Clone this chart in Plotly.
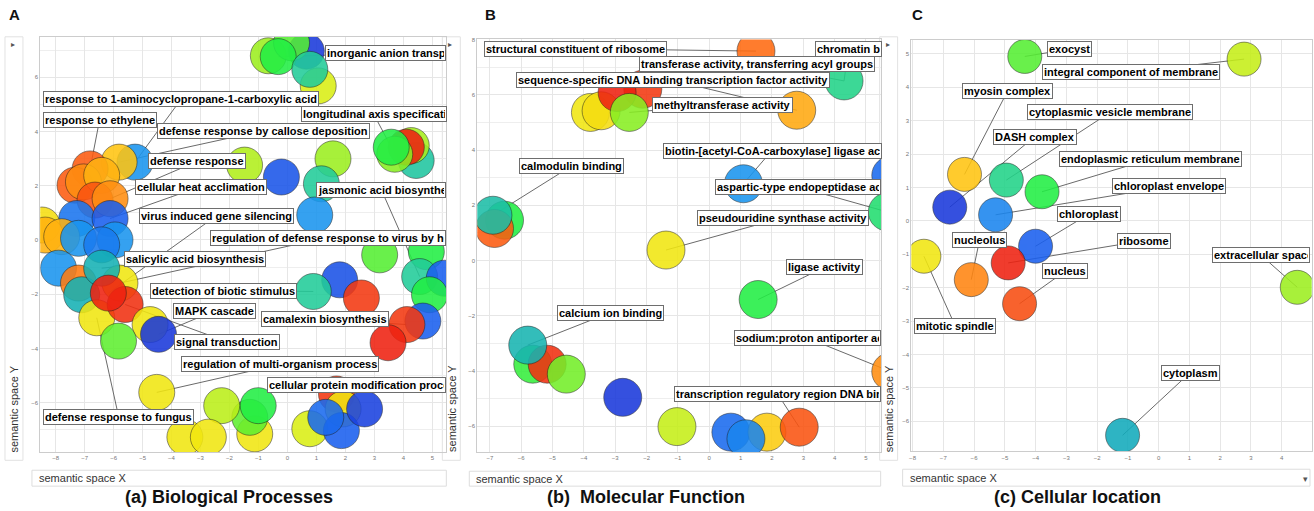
import plotly.graph_objects as go

W, H = 1314, 511

# ================= DATA =================
# (a) Biological Processes -- semantic space coordinates, colour value (0 = blue ... 1 = red)
bp_x = [1.06, 0.65, -0.66, 0.14, -0.32, 0.77,
        4.44, 4.27, 4.10, 3.70, 3.58,
        -1.48, -0.21, 1.57, 1.17, 0.94,
        3.18, 4.79, 4.56, 5.41, 4.90, 1.80, 0.89, 2.55, 4.67, 4.12, 3.47,
        1.69, 1.92, 0.77, 1.86, 2.66, 1.32,
        -1.13, -1.30, -1.01, -2.27, -3.54, -2.73, -4.51,
        -5.26, -5.81, -6.81, -7.33, -7.04, -6.41, -6.64, -6.12, -7.27, -6.12,
        -8.47, -8.36, -7.79, -7.21, -5.95, -6.41,
        -7.90, -7.21, -7.10, -5.78, -6.58, -5.60, -6.41, -6.18, -4.74, -5.83, -4.45]
bp_y = [5.68, 6.96, 6.79, 7.27, 6.76, 6.29,
        2.93, 3.48, 3.42, 3.16, 3.42,
        2.76, 2.32, 2.99, 2.07, 0.92,
        -0.55, -0.43, -1.35, -1.41, -2.02, -1.47, -1.90, -2.14, -2.99, -3.12, -3.79,
        -5.68, -6.23, -6.96, -7.03, -6.23, -6.54,
        -7.15, -6.54, -6.11, -6.11, -7.27, -7.27, -5.62,
        2.87, 2.87, 2.62, 2.02, 2.14, 2.38, 1.47, 1.52, 0.79, 0.79,
        0.55, 0.18, 0.12, 0.06, 0.00, -0.18,
        -1.04, -1.59, -2.02, -1.59, -2.87, -2.38, -1.04, -1.96, -3.12, -3.73, -3.48]
bp_val = [0.68, 0.02, 0.62, 0.55, 0.50, 0.40,
          0.38, 0.63, 1.00, 0.60, 0.50,
          0.64, 0.08, 0.62, 0.40, 0.20,
          0.55, 0.50, 0.40, 0.10, 0.50, 0.07, 0.40, 0.97, 0.10, 0.97, 1.00,
          0.97, 0.72, 0.68, 0.10, 0.04, 0.12,
          0.72, 0.56, 0.50, 0.65, 0.72, 0.72, 0.72,
          0.20, 0.80, 0.92, 0.92, 0.86, 0.82, 0.93, 0.86, 0.14, 0.10,
          0.74, 0.82, 0.82, 0.20, 0.20, 0.15,
          0.20, 0.88, 0.32, 0.72, 0.72, 0.98, 0.32, 1.00, 0.72, 0.56, 0.02]
bp_terms = ["response to 1-aminocyclopropane-1-carboxylic acid", "response to ethylene",
            "defense response by callose deposition", "defense response",
            "cellular heat acclimation", "virus induced gene silencing",
            "regulation of defense response to virus by host", "salicylic acid biosynthesis",
            "detection of biotic stimulus", "MAPK cascade", "camalexin biosynthesis",
            "signal transduction", "regulation of multi-organism process",
            "cellular protein modification process", "defense response to fungus",
            "inorganic anion transport", "longitudinal axis specification",
            "jasmonic acid biosynthesis"]
bp_term_idx = [40, 42, 41, 47, 49, 63, 59, 62, 22, 66, 25, 61, 39, 28, 60, 4, 10, 18]

# (b) Molecular Function
mf_x = [1.49, 4.30, 2.79, -2.12, -3.79, -3.45, -2.94, -2.55,
        1.09, 5.79, 5.68, -6.53, -6.85, -6.90, -1.38, 1.56,
        -5.63, -5.17, -4.56, -5.79, -2.76, -1.03, 0.69, 1.84, 1.17, 2.87, 5.79]
mf_y = [7.58, 6.50, 5.44, 6.20, 5.36, 5.42, 6.08, 5.36,
        2.78, 3.08, 1.76, 1.46, 1.16, 1.64, 0.38, -1.41,
        -3.75, -3.75, -4.11, -3.06, -4.95, -6.01, -6.21, -6.21, -6.45, -6.03, -4.02]
mf_val = [0.90, 0.42, 0.83, 0.97, 0.72, 0.74, 1.00, 0.60,
          0.20, 0.12, 0.45, 0.50, 0.92, 0.36, 0.72, 0.50,
          0.52, 0.98, 0.58, 0.33, 0.02, 0.66, 0.12, 0.78, 0.17, 0.93, 0.86]
mf_terms = ["structural constituent of ribosome", "chromatin binding",
            "transferase activity, transferring acyl groups",
            "sequence-specific DNA binding transcription factor activity",
            "methyltransferase activity", "biotin-[acetyl-CoA-carboxylase] ligase activity",
            "calmodulin binding", "aspartic-type endopeptidase activity",
            "pseudouridine synthase activity", "ligase activity", "calcium ion binding",
            "sodium:proton antiporter activity", "transcription regulatory region DNA binding"]
mf_term_idx = [0, 1, 1, 2, 7, 8, 13, 10, 14, 15, 19, 26, 25]

# (c) Cellular location
cc_x = [-4.35, 2.78, -6.31, -4.95, -3.79, -6.79, -5.30, -4.00, -7.63, -4.89, -6.09, -4.52, 4.51, -1.17]
cc_y = [4.92, 4.84, 1.39, 1.22, 0.87, 0.41, 0.18, -0.76, -1.06, -1.26, -1.76, -2.48, -1.99, -6.42]
cc_val = [0.55, 0.66, 0.80, 0.42, 0.50, 0.02, 0.17, 0.10, 0.72, 1.00, 0.87, 0.94, 0.62, 0.30]
cc_terms = ["exocyst", "integral component of membrane", "myosin complex",
            "cytoplasmic vesicle membrane", "DASH complex", "endoplasmic reticulum membrane",
            "chloroplast envelope", "chloroplast", "nucleolus", "ribosome", "nucleus",
            "extracellular space", "mitotic spindle", "cytoplasm"]
cc_term_idx = [0, 1, 2, 3, 5, 4, 6, 7, 10, 9, 11, 12, 8, 13]

# ================= LAYOUT (label placement) =================
# label box position (centre, or left edge when a clip width in px is given)
bp_lab_x = [-3.67, -6.48, -0.84, -3.11, -3.00, -2.44, -2.68, -3.19, -2.20, -2.51, 1.28, -2.07, -0.26, -0.69, -5.82, 1.31, 0.46, 1.00]
bp_lab_y = [5.19, 4.44, 4.03, 2.90, 1.97, 0.90, 0.09, -0.69, -1.87, -2.61, -2.93, -3.76, -4.59, -5.35, -6.54, 6.88, 4.64, 1.85]
bp_lab_w = [None, None, None, None, None, None, 236, None, None, None, None, None, None, 179, None, 121, 146, 130]

mf_lab_x = [-4.28, 3.37, 1.53, -1.16, 0.42, -1.49, -4.38, 0.19, 2.34, 3.68, -3.15, 0.80, -1.11]
mf_lab_y = [7.67, 7.64, 7.11, 6.52, 5.64, 3.98, 3.43, 2.67, 1.55, -0.24, -1.88, -2.81, -4.84]
mf_lab_w = [None, 67, None, None, None, 219, None, 166, None, None, None, 147, 207]

cc_lab_x = [-2.90, -0.88, -4.90, -1.57, -4.03, -0.26, 0.34, -2.27, -5.82, -0.46, -3.04, 1.73, -6.61, 1.03]
cc_lab_y = [5.14, 4.45, 3.90, 3.25, 2.52, 1.85, 1.03, 0.20, -0.57, -0.59, -1.51, -1.02, -3.15, -4.54]
cc_lab_w = [None] * 11 + [98, None, None]

COLORSCALE = [
    [0.0, '#1a2fd6'], [0.1, '#1a5fee'], [0.2, '#1a95ee'], [0.3, '#12aabb'],
    [0.4, '#22cc99'], [0.5, '#22ee44'], [0.6, '#88ee22'], [0.7, '#eeee11'],
    [0.8, '#ffc411'], [0.9, '#ff6a11'], [1.0, '#ee2211'],
]

panels = [
    dict(ax='', dom_x=(38.3, 445), dom_y=(34, 451.7), xr=[-8.53, 5.48], yr=[-7.82, 7.49],
         ydt=2, size=36, xs=bp_x, ys=bp_y, vals=bp_val, terms=bp_terms, tidx=bp_term_idx,
         lx=bp_lab_x, ly=bp_lab_y, lw=bp_lab_w),
    dict(ax='2', dom_x=(476, 880.7), dom_y=(36.7, 451.7), xr=[-7.40, 5.49], yr=[-6.93, 8.0],
         ydt=2, size=38, xs=mf_x, ys=mf_y, vals=mf_val, terms=mf_terms, tidx=mf_term_idx,
         lx=mf_lab_x, ly=mf_lab_y, lw=mf_lab_w),
    dict(ax='3', dom_x=(910.7, 1311.7), dom_y=(37.3, 451), xr=[-8.04, 4.98], yr=[-6.90, 5.41],
         ydt=1, size=34, xs=cc_x, ys=cc_y, vals=cc_val, terms=cc_terms, tidx=cc_term_idx,
         lx=cc_lab_x, ly=cc_lab_y, lw=cc_lab_w),
]

fig = go.Figure()
annotations = []
shapes = []
LABEL_FONT = dict(family='Arial, Liberation Sans, sans-serif', size=11, color='#000000')

for p in panels:
    xref, yref = 'x' + p['ax'], 'y' + p['ax']
    ppu = (p['dom_x'][1] - p['dom_x'][0]) / (p['xr'][1] - p['xr'][0])
    # leader lines (under the bubbles)
    lxs, lys = [], []
    for t, i, x, y, w in zip(p['terms'], p['tidx'], p['lx'], p['ly'], p['lw']):
        sx = x + (w / 2) / ppu if w else x
        lxs += [sx, p['xs'][i], None]
        lys += [y, p['ys'][i], None]
    fig.add_trace(go.Scatter(x=lxs, y=lys, mode='lines', xaxis=xref, yaxis=yref,
                             line=dict(color='#6a6a6a', width=1), hoverinfo='skip',
                             showlegend=False))
    fig.add_trace(go.Scatter(
        x=p['xs'], y=p['ys'], mode='markers', xaxis=xref, yaxis=yref, showlegend=False,
        marker=dict(size=p['size'], color=p['vals'], cmin=0, cmax=1,
                    colorscale=COLORSCALE, opacity=0.88,
                    line=dict(color='rgba(30,30,30,0.55)', width=1))))
    for t, x, y, w in zip(p['terms'], p['lx'], p['ly'], p['lw']):
        ann = dict(xref=xref, yref=yref, x=x, y=y, text='<b>' + t + '</b>', showarrow=False,
                   font=LABEL_FONT, bgcolor='white', bordercolor='#6e6e6e',
                   borderwidth=1, borderpad=1, yanchor='middle')
        if w:
            ann.update(xanchor='left', width=w - 4, align='left')
        else:
            ann.update(xanchor='center')
        annotations.append(ann)

axis_common = dict(showgrid=True, gridcolor='#e6e6e6', gridwidth=1, zeroline=False,
                   showline=True, linecolor='#cccccc', linewidth=1, mirror=True,
                   ticks='', tickfont=dict(family='Arial, Liberation Sans', size=6, color='#777777'),
                   fixedrange=True)
layout_axes = {}
for p in panels:
    dx = [p['dom_x'][0] / W, p['dom_x'][1] / W]
    dy = [1 - p['dom_y'][1] / H, 1 - p['dom_y'][0] / H]
    xa = dict(axis_common, domain=dx, range=p['xr'], dtick=1, tick0=0,
              anchor='y' + p['ax'])
    ya = dict(axis_common, domain=dy, range=p['yr'], dtick=p['ydt'], tick0=0,
              anchor='x' + p['ax'])
    if p['ydt'] == 2:
        ya['minor'] = dict(dtick=1, tick0=0, showgrid=True, gridcolor='#eeeeee')
    layout_axes['xaxis' + p['ax']] = xa
    layout_axes['yaxis' + p['ax']] = ya


def px(x):
    return x / W


def py(y):
    return 1 - y / H


def paper_text(x, y, text, font, xanchor='center', **kw):
    d = dict(xref='paper', yref='paper', x=px(x), y=py(y), text=text, showarrow=False,
             font=font, xanchor=xanchor, yanchor='middle')
    d.update(kw)
    return d


# axis-selector widgets (REVIGO style)
sel_font = dict(family='Arial, Liberation Sans', size=11, color='#333333')
xsel = [(30, 445, 470, 486), (468, 880, 471, 486), (902, 1310, 469, 486)]
for (x0, x1, y0, y1) in xsel:
    shapes.append(dict(type='rect', xref='paper', yref='paper', x0=px(x0), x1=px(x1),
                       y0=py(y1), y1=py(y0), line=dict(color='#dddddd', width=1),
                       fillcolor='white', layer='below'))
    annotations.append(paper_text(x0 + 5, (y0 + y1) / 2, 'semantic space X', sel_font, 'left'))
annotations.append(paper_text(1305, 478, '▾', dict(size=9, color='#555')))
ysel = [(3, 21), (441, 459), (879, 897)]
for (x0, x1) in ysel:
    shapes.append(dict(type='rect', xref='paper', yref='paper', x0=px(x0), x1=px(x1),
                       y0=py(460), y1=py(34), line=dict(color='#e2e2e2', width=1),
                       fillcolor='white', layer='below'))
    annotations.append(paper_text((x0 + x1) / 2, 408, 'semantic space Y', sel_font,
                                  textangle=-90))
    annotations.append(paper_text(x0 + 8, 41, '▸', dict(size=8, color='#555')))

# panel letters and titles
title_font = dict(family='Arial, Liberation Sans', size=18, color='#111111')
for letter, x in [('A', 13), ('B', 489), ('C', 917)]:
    annotations.append(paper_text(x, 12, '<b>' + letter + '</b>',
                                  dict(family='Arial, Liberation Sans', size=15, color='#111')))
for t, x in [('(a) Biological Processes', 227.5), ('(b)&nbsp; Molecular Function', 645),
             ('(c) Cellular location', 1077)]:
    annotations.append(paper_text(x, 497, '<b>' + t + '</b>', title_font))

fig.update_layout(width=W, height=H, margin=dict(l=0, r=0, t=0, b=0),
                  paper_bgcolor='white', plot_bgcolor='white',
                  annotations=annotations, shapes=shapes, showlegend=False, **layout_axes)

fig.write_html('out.html', config={'displayModeBar': False},
               post_script="document.body.style.margin='0';document.body.style.overflow='hidden';")
